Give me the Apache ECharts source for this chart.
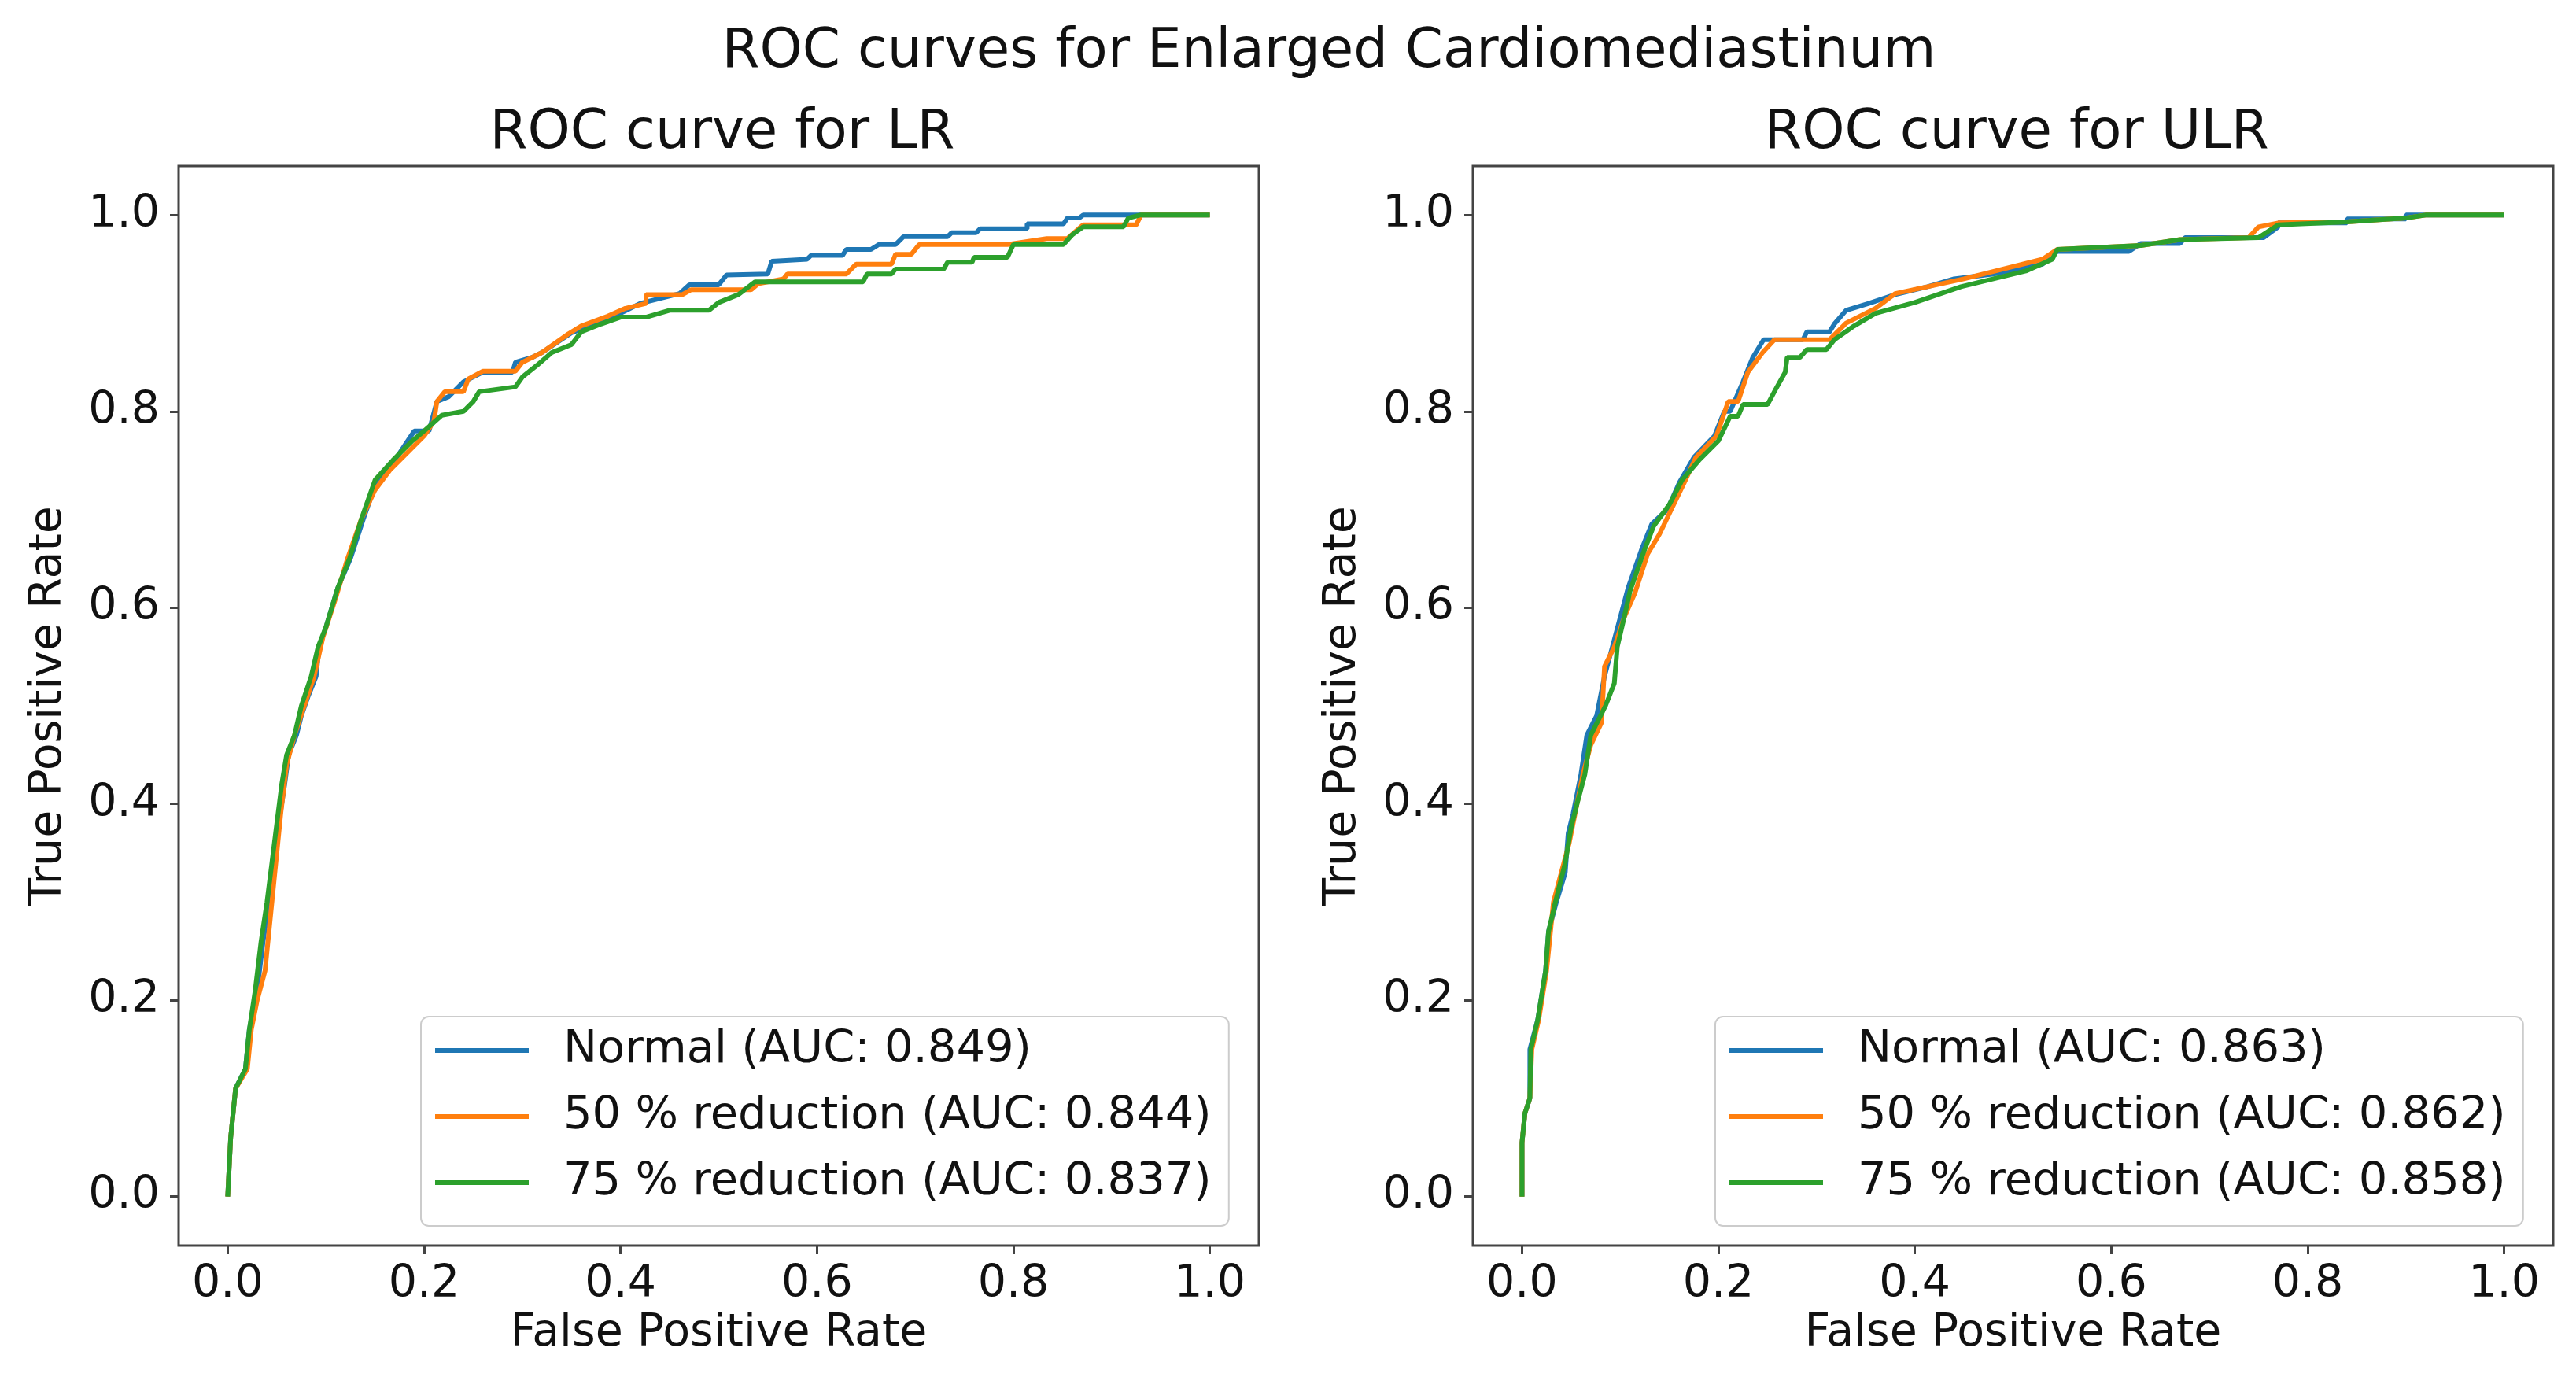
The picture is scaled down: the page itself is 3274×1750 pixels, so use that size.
<!DOCTYPE html>
<html>
<head>
<meta charset="utf-8">
<script src="https://cdn.jsdelivr.net/npm/echarts@6/dist/echarts.min.js"></script>
<style>html,body{margin:0;padding:0;background:#fff}#c{width:3274px;height:1750px}</style>
</head>
<body>
<div id="c"></div>
<script>
// ---------- data ----------
const suptitle = "ROC curves for Enlarged Cardiomediastinum";
const panelTitles = ["ROC curve for LR", "ROC curve for ULR"];
const xLabel = "False Positive Rate";
const yLabel = "True Positive Rate";
const tickValues = [0, 0.2, 0.4, 0.6, 0.8, 1.0];

const lrNames = ["Normal (AUC: 0.849)", "50 % reduction (AUC: 0.844)", "75 % reduction (AUC: 0.837)"];
const ulrNames = ["Normal (AUC: 0.863)", "50 % reduction (AUC: 0.862)", "75 % reduction (AUC: 0.858)"];

const lrNormal = [[0,0],[0.003,0.06],[0.008,0.11],[0.018,0.13],[0.022,0.17],[0.03,0.21],[0.036,0.26],[0.042,0.30],[0.047,0.35],[0.052,0.38],[0.058,0.42],[0.062,0.45],[0.07,0.47],[0.075,0.49],[0.082,0.51],[0.09,0.53],[0.093,0.56],[0.1,0.58],[0.112,0.62],[0.125,0.65],[0.138,0.69],[0.152,0.73],[0.17,0.75],[0.19,0.78],[0.205,0.78],[0.213,0.81],[0.225,0.815],[0.24,0.83],[0.26,0.84],[0.29,0.84],[0.293,0.85],[0.31,0.855],[0.32,0.86],[0.35,0.88],[0.39,0.895],[0.42,0.91],[0.46,0.92],[0.47,0.929],[0.5,0.929],[0.508,0.939],[0.55,0.94],[0.554,0.953],[0.59,0.955],[0.594,0.959],[0.626,0.959],[0.63,0.965],[0.655,0.965],[0.663,0.97],[0.68,0.97],[0.688,0.978],[0.733,0.978],[0.737,0.982],[0.762,0.982],[0.766,0.986],[0.814,0.986],[0.814,0.991],[0.851,0.991],[0.855,0.997],[0.867,0.997],[0.871,1.0],[1.0,1.0]];
const lr50 = [[0,0],[0.003,0.06],[0.008,0.11],[0.02,0.13],[0.024,0.17],[0.03,0.2],[0.038,0.23],[0.042,0.27],[0.046,0.31],[0.05,0.35],[0.054,0.39],[0.06,0.44],[0.068,0.47],[0.078,0.5],[0.088,0.53],[0.097,0.57],[0.11,0.61],[0.122,0.65],[0.136,0.69],[0.15,0.72],[0.165,0.74],[0.185,0.76],[0.2,0.775],[0.21,0.79],[0.213,0.81],[0.221,0.82],[0.24,0.82],[0.245,0.833],[0.26,0.841],[0.293,0.841],[0.3,0.85],[0.32,0.86],[0.347,0.879],[0.36,0.887],[0.387,0.897],[0.405,0.905],[0.426,0.91],[0.426,0.919],[0.463,0.919],[0.472,0.924],[0.533,0.924],[0.54,0.93],[0.566,0.935],[0.57,0.94],[0.63,0.94],[0.64,0.95],[0.676,0.95],[0.68,0.96],[0.696,0.96],[0.704,0.97],[0.794,0.97],[0.834,0.976],[0.855,0.976],[0.871,0.99],[0.925,0.99],[0.93,1.0],[1,1]];
const lr75 = [[0,0],[0.003,0.06],[0.008,0.11],[0.018,0.13],[0.022,0.17],[0.028,0.21],[0.034,0.26],[0.04,0.3],[0.045,0.34],[0.05,0.38],[0.055,0.42],[0.06,0.45],[0.068,0.47],[0.075,0.5],[0.085,0.53],[0.092,0.56],[0.1,0.58],[0.112,0.62],[0.124,0.65],[0.136,0.69],[0.15,0.73],[0.168,0.75],[0.188,0.77],[0.2,0.78],[0.218,0.796],[0.24,0.8],[0.25,0.81],[0.256,0.82],[0.293,0.825],[0.3,0.835],[0.315,0.847],[0.33,0.86],[0.35,0.868],[0.36,0.881],[0.38,0.889],[0.4,0.896],[0.426,0.896],[0.45,0.903],[0.49,0.903],[0.5,0.911],[0.52,0.919],[0.537,0.932],[0.647,0.932],[0.651,0.94],[0.676,0.94],[0.68,0.945],[0.729,0.945],[0.733,0.952],[0.758,0.952],[0.76,0.957],[0.794,0.957],[0.8,0.97],[0.851,0.97],[0.86,0.98],[0.871,0.988],[0.912,0.988],[0.917,0.997],[0.929,1.0],[1,1]];

const ulrNormal = [[0,0],[0,0.055],[0.003,0.085],[0.008,0.1],[0.008,0.15],[0.016,0.18],[0.024,0.23],[0.027,0.27],[0.035,0.3],[0.044,0.33],[0.047,0.37],[0.052,0.39],[0.06,0.43],[0.066,0.47],[0.076,0.49],[0.084,0.53],[0.092,0.56],[0.1,0.59],[0.108,0.62],[0.122,0.66],[0.132,0.685],[0.148,0.7],[0.16,0.727],[0.175,0.753],[0.196,0.775],[0.206,0.80],[0.212,0.80],[0.225,0.83],[0.235,0.855],[0.246,0.873],[0.286,0.873],[0.29,0.881],[0.313,0.881],[0.318,0.889],[0.33,0.903],[0.353,0.91],[0.38,0.919],[0.413,0.927],[0.44,0.935],[0.48,0.94],[0.53,0.95],[0.545,0.963],[0.618,0.963],[0.63,0.971],[0.67,0.971],[0.675,0.977],[0.755,0.977],[0.77,0.988],[0.77,0.992],[0.84,0.992],[0.84,0.996],[0.9,0.996],[0.9,1.0],[1,1]];
const ulr50 = [[0,0],[0,0.055],[0.003,0.085],[0.008,0.1],[0.01,0.15],[0.017,0.18],[0.025,0.23],[0.028,0.26],[0.032,0.3],[0.04,0.33],[0.048,0.36],[0.054,0.39],[0.062,0.43],[0.07,0.46],[0.081,0.483],[0.084,0.54],[0.094,0.56],[0.104,0.59],[0.115,0.615],[0.128,0.655],[0.14,0.675],[0.152,0.7],[0.165,0.727],[0.177,0.753],[0.198,0.775],[0.21,0.81],[0.22,0.81],[0.23,0.84],[0.245,0.86],[0.257,0.873],[0.313,0.873],[0.33,0.89],[0.36,0.905],[0.38,0.92],[0.413,0.927],[0.45,0.935],[0.49,0.945],[0.53,0.955],[0.545,0.965],[0.63,0.969],[0.67,0.975],[0.74,0.977],[0.75,0.988],[0.77,0.992],[0.84,0.993],[0.9,0.997],[0.92,1],[1,1]];
const ulr75 = [[0,0],[0,0.055],[0.003,0.085],[0.008,0.1],[0.009,0.15],[0.016,0.18],[0.024,0.23],[0.027,0.27],[0.034,0.3],[0.044,0.34],[0.05,0.376],[0.056,0.4],[0.064,0.43],[0.07,0.47],[0.085,0.5],[0.094,0.523],[0.097,0.56],[0.104,0.59],[0.11,0.617],[0.124,0.657],[0.134,0.683],[0.15,0.705],[0.163,0.73],[0.18,0.75],[0.2,0.77],[0.212,0.795],[0.22,0.795],[0.225,0.807],[0.25,0.807],[0.258,0.822],[0.268,0.84],[0.27,0.855],[0.283,0.855],[0.29,0.863],[0.31,0.863],[0.318,0.873],[0.338,0.887],[0.36,0.9],[0.4,0.911],[0.447,0.927],[0.513,0.943],[0.54,0.955],[0.545,0.965],[0.63,0.969],[0.67,0.975],[0.75,0.977],[0.77,0.99],[0.84,0.993],[0.9,0.997],[0.92,1.0],[1,1]];

const colors = ["#1f77b4", "#ff7f0e", "#2ca02c"];

// ---------- build ----------
const FONT = "DejaVu Sans";
const axisColor = "#444";
const grids = [
  {left: 227, top: 211, width: 1373, height: 1372},
  {left: 1872, top: 211, width: 1373, height: 1372}
];

function xAx(i) {
  return {
    type: "value", gridIndex: i, min: -0.05, max: 1.05, position: "bottom",
    name: xLabel, nameLocation: "middle", nameGap: 84,
    nameTextStyle: {fontFamily: FONT, fontSize: 57, color: "#111"},
    axisLine: {show: false, onZero: false},
    axisTick: {show: true, customValues: tickValues, length: 11, lineStyle: {color: axisColor, width: 3}},
    axisLabel: {customValues: tickValues, formatter: v => v.toFixed(1), margin: 22,
      fontFamily: FONT, fontSize: 57, color: "#111"},
    splitLine: {show: false}
  };
}
function yAx(i) {
  return {
    type: "value", gridIndex: i, min: -0.05, max: 1.05, position: "left",
    name: yLabel, nameLocation: "middle", nameGap: 136,
    nameTextStyle: {fontFamily: FONT, fontSize: 57, color: "#111"},
    axisLine: {show: false, onZero: false},
    axisTick: {show: true, customValues: tickValues, length: 11, lineStyle: {color: axisColor, width: 3}},
    axisLabel: {customValues: tickValues, formatter: v => v.toFixed(1), margin: 24,
      fontFamily: FONT, fontSize: 57, color: "#111"},
    splitLine: {show: false}
  };
}
function mkSeries(name, data, color, idx) {
  return {
    type: "line", name: name, data: data, xAxisIndex: idx, yAxisIndex: idx,
    showSymbol: false, symbol: "none", color: color,
    lineStyle: {color: color, width: 6}, z: 2
  };
}
function mkLegend(names, left) {
  return {
    orient: "vertical", left: left, top: 1292, data: names,
    icon: "rect", itemWidth: 119, itemHeight: 6, itemGap: 22,
    padding: [12, 22, 24, 18],
    backgroundColor: "rgba(255,255,255,0.85)", borderColor: "#cccccc", borderWidth: 2, borderRadius: 10,
    textStyle: {fontFamily: FONT, fontSize: 57.5, color: "#111", lineHeight: 62, padding: [0, 0, 0, 39]},
    selectedMode: false
  };
}

const chart = echarts.init(document.getElementById("c"), null, {renderer: "canvas"});
chart.setOption({
  animation: false,
  backgroundColor: "#fff",
  title: [
    {text: suptitle, left: 1684, top: 28, textAlign: "center",
     textStyle: {fontFamily: FONT, fontSize: 69, fontWeight: "normal", color: "#111"}},
    {text: panelTitles[0], left: 913, top: 131, textAlign: "center",
     textStyle: {fontFamily: FONT, fontSize: 69, fontWeight: "normal", color: "#111"}},
    {text: panelTitles[1], left: 2558, top: 131, textAlign: "center",
     textStyle: {fontFamily: FONT, fontSize: 69, fontWeight: "normal", color: "#111"}}
  ],
  grid: grids.map(g => Object.assign({show: true, borderColor: axisColor, borderWidth: 3, backgroundColor: "transparent"}, g)),
  xAxis: [xAx(0), xAx(1)],
  yAxis: [yAx(0), yAx(1)],
  legend: [mkLegend(lrNames, 535), mkLegend(ulrNames, 2180)],
  series: [
    mkSeries(lrNames[0], lrNormal, colors[0], 0),
    mkSeries(lrNames[1], lr50, colors[1], 0),
    mkSeries(lrNames[2], lr75, colors[2], 0),
    mkSeries(ulrNames[0], ulrNormal, colors[0], 1),
    mkSeries(ulrNames[1], ulr50, colors[1], 1),
    mkSeries(ulrNames[2], ulr75, colors[2], 1)
  ]
});
</script>
</body>
</html>
